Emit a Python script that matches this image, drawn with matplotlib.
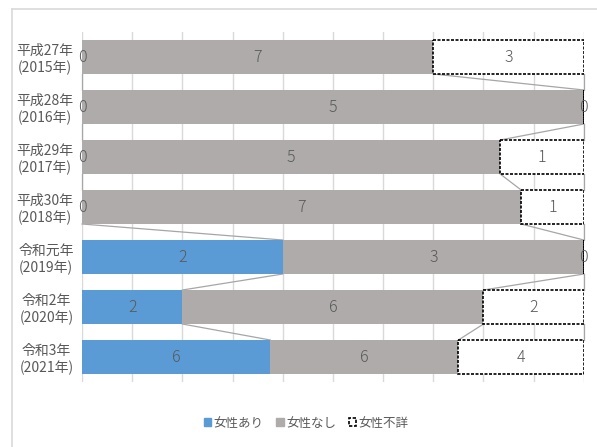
import matplotlib
matplotlib.use("Agg")
import matplotlib.pyplot as plt
from matplotlib.patches import Patch
from matplotlib.lines import Line2D
import numpy as np

plt.rcParams['font.family'] = ['Noto Sans CJK JP', 'DejaVu Sans']

categories = ["平成27年\n(2015年)", "平成28年\n(2016年)", "平成29年\n(2017年)", "平成30年\n(2018年)",
              "令和元年\n(2019年)", "令和2年\n(2020年)", "令和3年\n(2021年)"]
series_names = ["女性あり", "女性なし", "女性不詳"]
women_yes = [0, 0, 0, 0, 2, 2, 6]
women_no = [7, 5, 5, 7, 3, 6, 6]
women_unknown = [3, 0, 1, 1, 0, 2, 4]

blue = "#5B9BD5"
gray = "#AFABAB"
txt = "#595959"

fig = plt.figure(figsize=(5.97, 4.47), dpi=100)
ax = fig.add_axes([0.1374, 0.1454, 0.978 - 0.1374, 0.9284 - 0.1454])

vals = np.array([women_yes, women_no, women_unknown], dtype=float)
tot = vals.sum(axis=0)
frac = vals / tot
y = np.arange(len(categories))
h = 0.68

left = np.zeros(len(categories))
lefts = []
for k in range(3):
    lefts.append(left.copy())
    if k == 0:
        ax.barh(y, frac[k], left=left, height=h, color=blue, zorder=3)
    elif k == 1:
        ax.barh(y, frac[k], left=left, height=h, color=gray, zorder=3)
    else:
        ax.barh(y, frac[k], left=left, height=h, facecolor="white", edgecolor="black",
                linestyle=(0, (1.8, 0.9)), linewidth=1.2, zorder=3)
    left = left + frac[k]

# labels
for k in range(3):
    for i in range(len(categories)):
        cx = lefts[k][i] + frac[k][i] / 2
        ax.text(cx, y[i], f"{int(vals[k][i])}", ha="center", va="center", fontsize=11.5,
                color=txt, zorder=5, clip_on=False, fontweight="light")

# series lines
cums = [frac[0], frac[0] + frac[1], frac[0] + frac[1] + frac[2]]
for c in cums:
    for i in range(len(categories) - 1):
        ax.plot([c[i], c[i + 1]], [y[i] + h / 2, y[i + 1] - h / 2], color="#A6A6A6",
                linewidth=0.9, zorder=2, clip_on=False)

ax.set_xlim(0, 1)
ax.set_ylim(len(categories) - 0.5, -0.5)
ax.set_xticks(np.arange(0, 1.01, 0.1))
ax.set_xticklabels([])
ax.tick_params(axis="x", length=0)
ax.grid(axis="x", color="#D9D9D9", linewidth=1, zorder=0)
ax.set_yticks(y)
ax.set_yticklabels(categories, fontsize=10, color=txt, linespacing=1.25)
for lbl in ax.get_yticklabels():
    lbl.set_multialignment("center")
ax.tick_params(axis="y", length=0, pad=6)
for s in ax.spines.values():
    s.set_visible(False)

# outer frame
fig.add_artist(Line2D([12 / 597, 12 / 597], [0, 1 - 9 / 447], color="#D9D9D9", linewidth=1.2,
                      transform=fig.transFigure))
fig.add_artist(Line2D([12 / 597, 1], [1 - 9 / 447, 1 - 9 / 447], color="#D9D9D9", linewidth=1.2,
                      transform=fig.transFigure))

handles = [Patch(facecolor=blue, edgecolor=blue),
           Patch(facecolor=gray, edgecolor=gray),
           Patch(facecolor="white", edgecolor="black", linestyle=(0, (2, 1)), linewidth=1.2)]
fig.legend(handles, series_names, loc="center", bbox_to_anchor=(0.513, 1 - 423 / 447), ncol=3,
           frameon=False, fontsize=9, labelcolor=txt, handlelength=0.6, handleheight=0.6,
           handletextpad=0.2, columnspacing=1.0)

fig.savefig("out.png", dpi=100)
